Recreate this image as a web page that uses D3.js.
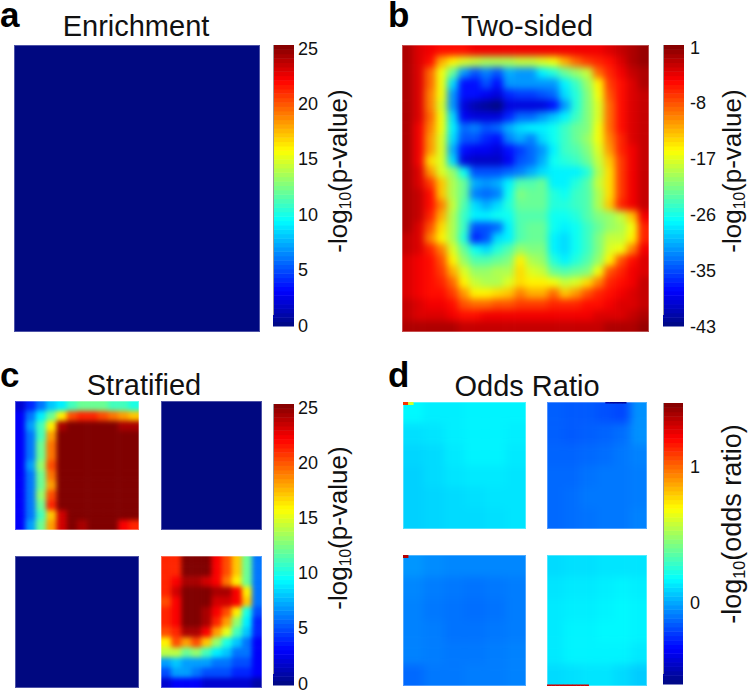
<!DOCTYPE html>
<html><head><meta charset="utf-8">
<style>html,body{margin:0;padding:0;background:#fff}svg{display:block}text{font-family:"Liberation Sans",Arial,sans-serif;fill:#111}</style>
<script src="https://cdn.jsdelivr.net/npm/d3@7/dist/d3.min.js"></script>
</head><body><div id="c"></div>
<script>
const enrichment = [[0,0],[0,0]];
const twoSided = [
[-1,-3,-4,-5,-5,-5,-4,-4,-4,-4,-4,-4,-4,-4,-4,-4,-4,-4,-3,-2,-1,0],
[-1,-3,-5,-12,-15,-17,-18,-19,-19,-19,-18,-18,-17,-16,-12,-9,-7,-6,-5,-3,-1,0],
[-1,-3,-9,-16,-22,-31,-34,-32,-34,-30,-31,-31,-27,-25,-22,-20,-18,-9,-6,-4,-2,-1],
[-1,-3,-9,-16,-28,-37,-37,-34,-37,-31,-31,-31,-31,-31,-27,-24,-20,-15,-7,-5,-3,-1],
[-1,-3,-10,-16,-31,-37,-37,-38,-39,-36,-35,-35,-34,-33,-28,-25,-21,-16,-8,-5,-3,-2],
[-1,-3,-10,-17,-31,-39,-41,-42,-43,-39,-39,-39,-39,-37,-31,-25,-21,-17,-9,-5,-3,-2],
[-1,-3,-9,-16,-28,-38,-39,-39,-39,-36,-33,-33,-31,-29,-27,-24,-21,-17,-9,-5,-3,-2],
[-1,-4,-10,-16,-27,-33,-32,-34,-33,-30,-28,-27,-27,-26,-24,-22,-21,-16,-9,-5,-3,-2],
[-1,-4,-11,-17,-28,-34,-34,-36,-37,-32,-30,-32,-28,-26,-24,-22,-20,-16,-10,-6,-3,-2],
[-1,-4,-11,-17,-30,-37,-38,-38,-39,-37,-35,-33,-31,-27,-24,-23,-21,-17,-11,-6,-4,-2],
[-1,-4,-14,-17,-28,-39,-40,-40,-40,-38,-34,-33,-30,-26,-25,-24,-22,-18,-13,-7,-4,-2],
[-1,-3,-11,-17,-20,-26,-34,-34,-34,-33,-32,-30,-28,-27,-27,-27,-25,-19,-14,-7,-4,-2],
[-1,-3,-7,-13,-19,-22,-30,-31,-30,-27,-23,-23,-22,-27,-27,-25,-23,-18,-14,-7,-4,-2],
[-1,-2,-5,-13,-19,-22,-32,-33,-32,-26,-21,-22,-22,-25,-26,-24,-23,-19,-14,-7,-4,-2],
[-1,-2,-5,-10,-18,-23,-28,-30,-28,-25,-22,-22,-22,-25,-25,-24,-23,-19,-13,-6,-4,-2],
[-1,-2,-6,-12,-19,-24,-27,-27,-26,-26,-23,-23,-23,-26,-26,-25,-23,-21,-20,-18,-13,-4],
[-1,-3,-8,-14,-19,-24,-34,-34,-33,-27,-23,-22,-22,-26,-27,-26,-24,-22,-20,-19,-16,-6],
[-2,-3,-10,-15,-19,-25,-36,-34,-28,-27,-23,-22,-22,-27,-28,-26,-24,-21,-18,-18,-15,-6],
[-2,-3,-6,-10,-17,-22,-26,-28,-25,-23,-20,-21,-21,-27,-28,-26,-24,-21,-17,-16,-10,-4],
[-3,-4,-5,-8,-15,-20,-23,-23,-22,-21,-15,-19,-20,-25,-27,-25,-23,-20,-15,-8,-5,-3],
[-3,-4,-5,-7,-12,-17,-20,-20,-19,-19,-14,-17,-18,-22,-23,-22,-21,-16,-8,-6,-4,-3],
[-3,-4,-5,-6,-9,-15,-18,-19,-19,-17,-14,-15,-15,-16,-18,-17,-14,-10,-6,-5,-4,-2],
[-3,-4,-5,-5,-7,-11,-15,-15,-14,-13,-10,-12,-12,-9,-13,-11,-8,-6,-5,-4,-3,-2],
[-2,-3,-4,-4,-5,-8,-9,-9,-8,-8,-7,-7,-7,-6,-6,-6,-5,-5,-4,-3,-3,-2],
[-2,-3,-3,-3,-4,-5,-5,-4,-4,-4,-4,-4,-4,-4,-4,-4,-4,-3,-3,-3,-2,-1],
[-1,-1,-1,-1,-1,-2,-2,-2,-2,-2,-2,-2,-2,-2,-2,-2,-2,-2,-1,-1,-1,0]
];
const stratTL = [
[2,4,6,8,9,11,12,12,12,11,11,10],
[3,6,9,12,16,20,21,21,20,19,18,17],
[3,7,11,16,24,25,25,25,25,25,24,24],
[3,6,11,18,25,25,25,25,25,25,25,25],
[3,6,12,19,25,25,25,25,25,25,25,25],
[3,6,12,19,25,25,25,25,25,25,25,25],
[3,7,13,20,25,25,25,25,25,25,25,25],
[3,6,12,19,25,25,25,25,25,25,25,25],
[3,6,12,18,25,25,25,25,25,25,25,25],
[3,6,13,20,25,25,25,25,25,25,25,25],
[3,6,12,21,25,25,25,25,25,25,25,25],
[3,6,11,17,23,25,25,25,25,25,25,25],
[3,7,12,18,23,25,24,25,25,25,22,21]
];
const stratTR = [[0,0],[0,0]];
const stratBL = [[0,0],[0,0]];
const stratBR = [
[21,21,25,25,25,22,20,17,12,6],
[21,21,25,25,25,22,20,17,12,6],
[21,22,24,24,23,22,19,16,12,6],
[21,23,25,25,25,24,24,22,16,6],
[20,22,25,25,25,23,23,22,17,6],
[21,22,25,25,24,22,20,16,10,5],
[21,22,25,25,24,21,18,13,9,4],
[20,21,24,24,22,18,15,11,8,4],
[16,20,18,20,17,13,10,8,6,3],
[14,14,12,13,11,9,8,6,6,3],
[7,8,7,7,7,6,6,5,5,3],
[5,7,7,6,5,5,5,4,4,3],
[2,3,3,3,2,2,2,2,2,1]
];
const oddsTL = [
[0.16,0.14,0.14,0.15,0.15,0.15],
[0.11,0.12,0.14,0.15,0.15,0.14],
[0.09,0.10,0.13,0.15,0.15,0.13],
[0.08,0.10,0.12,0.13,0.13,0.12],
[0.08,0.09,0.10,0.11,0.12,0.12],
[0.08,0.09,0.10,0.10,0.11,0.12]
];
const oddsTR = [
[-0.15,-0.16,-0.16,-0.18,-0.20,-0.05],
[-0.15,-0.16,-0.15,-0.14,-0.12,-0.05],
[-0.14,-0.14,-0.13,-0.12,-0.10,-0.08],
[-0.13,-0.13,-0.11,-0.10,-0.10,-0.09],
[-0.13,-0.12,-0.10,-0.10,-0.10,-0.09],
[-0.13,-0.12,-0.11,-0.10,-0.10,-0.08]
];
const oddsBL = [
[-0.04,-0.06,-0.07,-0.07,-0.07,-0.07],
[-0.07,-0.09,-0.10,-0.11,-0.10,-0.09],
[-0.08,-0.10,-0.11,-0.12,-0.11,-0.09],
[-0.08,-0.09,-0.11,-0.11,-0.10,-0.09],
[-0.08,-0.09,-0.10,-0.10,-0.09,-0.08],
[-0.13,-0.10,-0.10,-0.09,-0.09,-0.08]
];
const oddsBR = [
[0.10,0.11,0.11,0.12,0.12,0.12],
[0.12,0.13,0.13,0.14,0.15,0.14],
[0.13,0.14,0.14,0.15,0.16,0.15],
[0.13,0.15,0.15,0.16,0.16,0.15],
[0.13,0.15,0.15,0.15,0.15,0.13],
[0.10,0.11,0.12,0.12,0.10,0.07]
];
// narrow runs of extreme values along panel edges in d
const _ = null;
const oddsTLCorner = [1.1,0.6,_,_,_,_,_,_,_,_,_,_,_,_,_,_,_,_,_,_,_,_,_,_];
const oddsBLCorner = [1.35,_,_,_,_,_,_,_,_,_,_,_,_,_,_,_,_,_,_,_,_,_,_,_];
const oddsTREdge = [_,_,_,_,_,_,_,_,_,_,_,_,_,_,-0.5,-0.55,-0.55,-0.55,-0.55,_,_,_,_,_];
const oddsBRHEdge = [1.3,1.3,1.3,1.3,1.3,1.3,1.3,1.3,1.3,1.3,_,_,_,_,_,_,_,_,_,_,_,_,_,_];
const pTicks = [25,20,15,10,5,0];
const twoTickLabels = ["1","-8","-17","-26","-35","-43"];
const oddsTicks = [1,0];
const titles = ["Enrichment","Two-sided","Stratified","Odds Ratio"];
const letters = ["a","b","c","d"];

const jetStops = [[0,0,8,128],[.125,0,0,255],[.375,0,255,255],[.625,255,255,0],[.875,255,0,0],[1,128,0,0]];
const jetScale = d3.scaleLinear().domain(jetStops.map(d=>d[0])).range(jetStops.map(d=>`rgb(${d[1]},${d[2]},${d[3]})`)).clamp(true);
const W=750,H=691;
const svg=d3.select("#c").append("svg").attr("width",W).attr("height",H).attr("viewBox",`0 0 ${W} ${H}`);
const defs=svg.append("defs");
let uid=0;

function heat(matrix,x0,x1,y0,y1,domain,blur){
  const id=++uid;
  const t=d3.scaleLinear().domain(domain).range([0,1]);
  const xs=d3.scaleBand().domain(d3.range(matrix[0].length)).range([x0,x1]);
  const ys=d3.scaleBand().domain(d3.range(matrix.length)).range([y0,y1]);
  defs.append("clipPath").attr("id","cp"+id).append("rect").attr("x",x0).attr("y",y0).attr("width",x1-x0).attr("height",y1-y0);
  defs.append("filter").attr("id","fb"+id).attr("filterUnits","userSpaceOnUse")
    .attr("x",x0-40).attr("y",y0-40).attr("width",x1-x0+80).attr("height",y1-y0+80)
    .attr("color-interpolation-filters","sRGB")
    .append("feGaussianBlur").attr("stdDeviation",blur);
  const outer=svg.append("g").attr("clip-path",`url(#cp${id})`);
  const g=outer.append("g").attr("filter",`url(#fb${id})`);
  const ext=30, nc=matrix[0].length, nr=matrix.length;
  matrix.forEach((row,r)=>row.forEach((v,c)=>{
    const l=c===0?ext:0, rr=c===nc-1?ext:0, tt=r===0?ext:0, b=r===nr-1?ext:0;
    g.append("rect").attr("x",xs(c)-l).attr("y",ys(r)-tt)
      .attr("width",xs.bandwidth()+l+rr+.5).attr("height",ys.bandwidth()+tt+b+.5)
      .attr("fill",jetScale(t(v)));
  }));
  svg.append("rect").attr("x",x0+.5).attr("y",y0+.5).attr("width",x1-x0-1).attr("height",y1-y0-1)
    .attr("fill","none").attr("stroke","#fff").attr("stroke-opacity",.3);
}
function edgeStrip(values,x0,x1,y,h,domain){
  const t=d3.scaleLinear().domain(domain).range([0,1]);
  const xs=d3.scaleBand().domain(d3.range(values.length)).range([x0,x1]);
  values.forEach((v,i)=>{
    if(v===null) return;
    svg.append("rect").attr("x",xs(i)).attr("y",y).attr("width",xs.bandwidth()+.3).attr("height",h).attr("fill",jetScale(t(v)));
  });
}
function colorbar(x0,x1,y0,y1,lineBottom){
  const n=64;
  const ys=d3.scaleBand().domain(d3.range(n)).range([y1,y0]);
  const g=svg.append("g");
  d3.range(n).forEach(i=>{
    g.append("rect").attr("x",x0).attr("width",x1-x0).attr("y",ys(i)).attr("height",ys.bandwidth()+.5)
      .attr("fill",jetScale((i+.5)/n));
  });
  svg.append("line").attr("x1",x0+.5).attr("x2",x0+.5).attr("y1",y0).attr("y2",lineBottom)
    .attr("stroke","#9a9a9a").attr("stroke-width",1);
}
function tickText(x,y,s){
  svg.append("text").attr("x",x).attr("y",y+6.5).attr("font-size",18).text(s);
}
function axisLabel(x,yc,after,fs){
  const t=svg.append("text").attr("transform",`translate(${x},${yc}) rotate(-90)`).attr("text-anchor","middle").attr("font-size",fs);
  t.append("tspan").text("-log");
  t.append("tspan").attr("font-size",fs*.6).attr("dy",4).text("10");
  t.append("tspan").attr("dy",-4).text(after);
}
function title(xc,y,s){ svg.append("text").attr("x",xc).attr("y",y).attr("text-anchor","middle").attr("font-size",29).text(s); }
function letter(x,y,s){ svg.append("text").attr("x",x).attr("y",y).attr("font-size",35).attr("font-weight","bold").style("fill","#000").text(s); }

// a
heat(enrichment,14,260,45,332,[0,25],1);
colorbar(273,294,45,326,315);
const pyA=d3.scaleLinear().domain([0,25]).range([325,48]);
pTicks.forEach(v=>tickText(298,pyA(v),v));
axisLabel(347,171,"(p-value)",26);
// b
heat(twoSided,402,649,45,332,[-43,1],3.5);
colorbar(663,684,45,326,315);
const pyB=d3.scaleLinear().domain([twoTickLabels.length-1,0]).range([326,47]);
twoTickLabels.forEach((s,i)=>tickText(690,pyB(i),s));
axisLabel(741,171,"(p-value)",26);
// c
heat(stratTL,15,139,401,530,[0,25],2.6);
heat(stratTR,161,262,401,530,[0,25],1);
heat(stratBL,15,139,556,688,[0,25],1);
heat(stratBR,161,262,556,688,[0,25],2.6);
colorbar(273,294,404,685,674);
const pyC=d3.scaleLinear().domain([0,25]).range([683,407]);
pTicks.forEach(v=>tickText(298,pyC(v),v));
axisLabel(347,528,"(p-value)",26);
// d
const oddsDomain=[-0.6,1.46];
heat(oddsTL,403,526,402,529,oddsDomain,4);
heat(oddsTR,547,647,402,529,oddsDomain,4);
heat(oddsBL,403,526,555,686,oddsDomain,4);
heat(oddsBR,547,647,555,686,oddsDomain,4);
edgeStrip(oddsTLCorner,403,526,402,3,oddsDomain);
edgeStrip(oddsBLCorner,403,526,555,3,oddsDomain);
edgeStrip(oddsTREdge,547,647,402,1.5,oddsDomain);
edgeStrip(oddsBRHEdge,547,647,684.5,1.5,oddsDomain);
colorbar(663,683,403,684,674);
const pyD=d3.scaleLinear().domain([0,1]).range([602,466]);
oddsTicks.forEach(v=>tickText(690,pyD(v),v));
axisLabel(741,524,"(odds ratio)",27);
title(136,36,titles[0]);
title(527,36,titles[1]);
title(144,395,titles[2]);
title(527,396,titles[3]);
letter(0,27,letters[0]);
letter(388,27,letters[1]);
letter(0,387,letters[2]);
letter(388,387,letters[3]);
</script></body></html>
